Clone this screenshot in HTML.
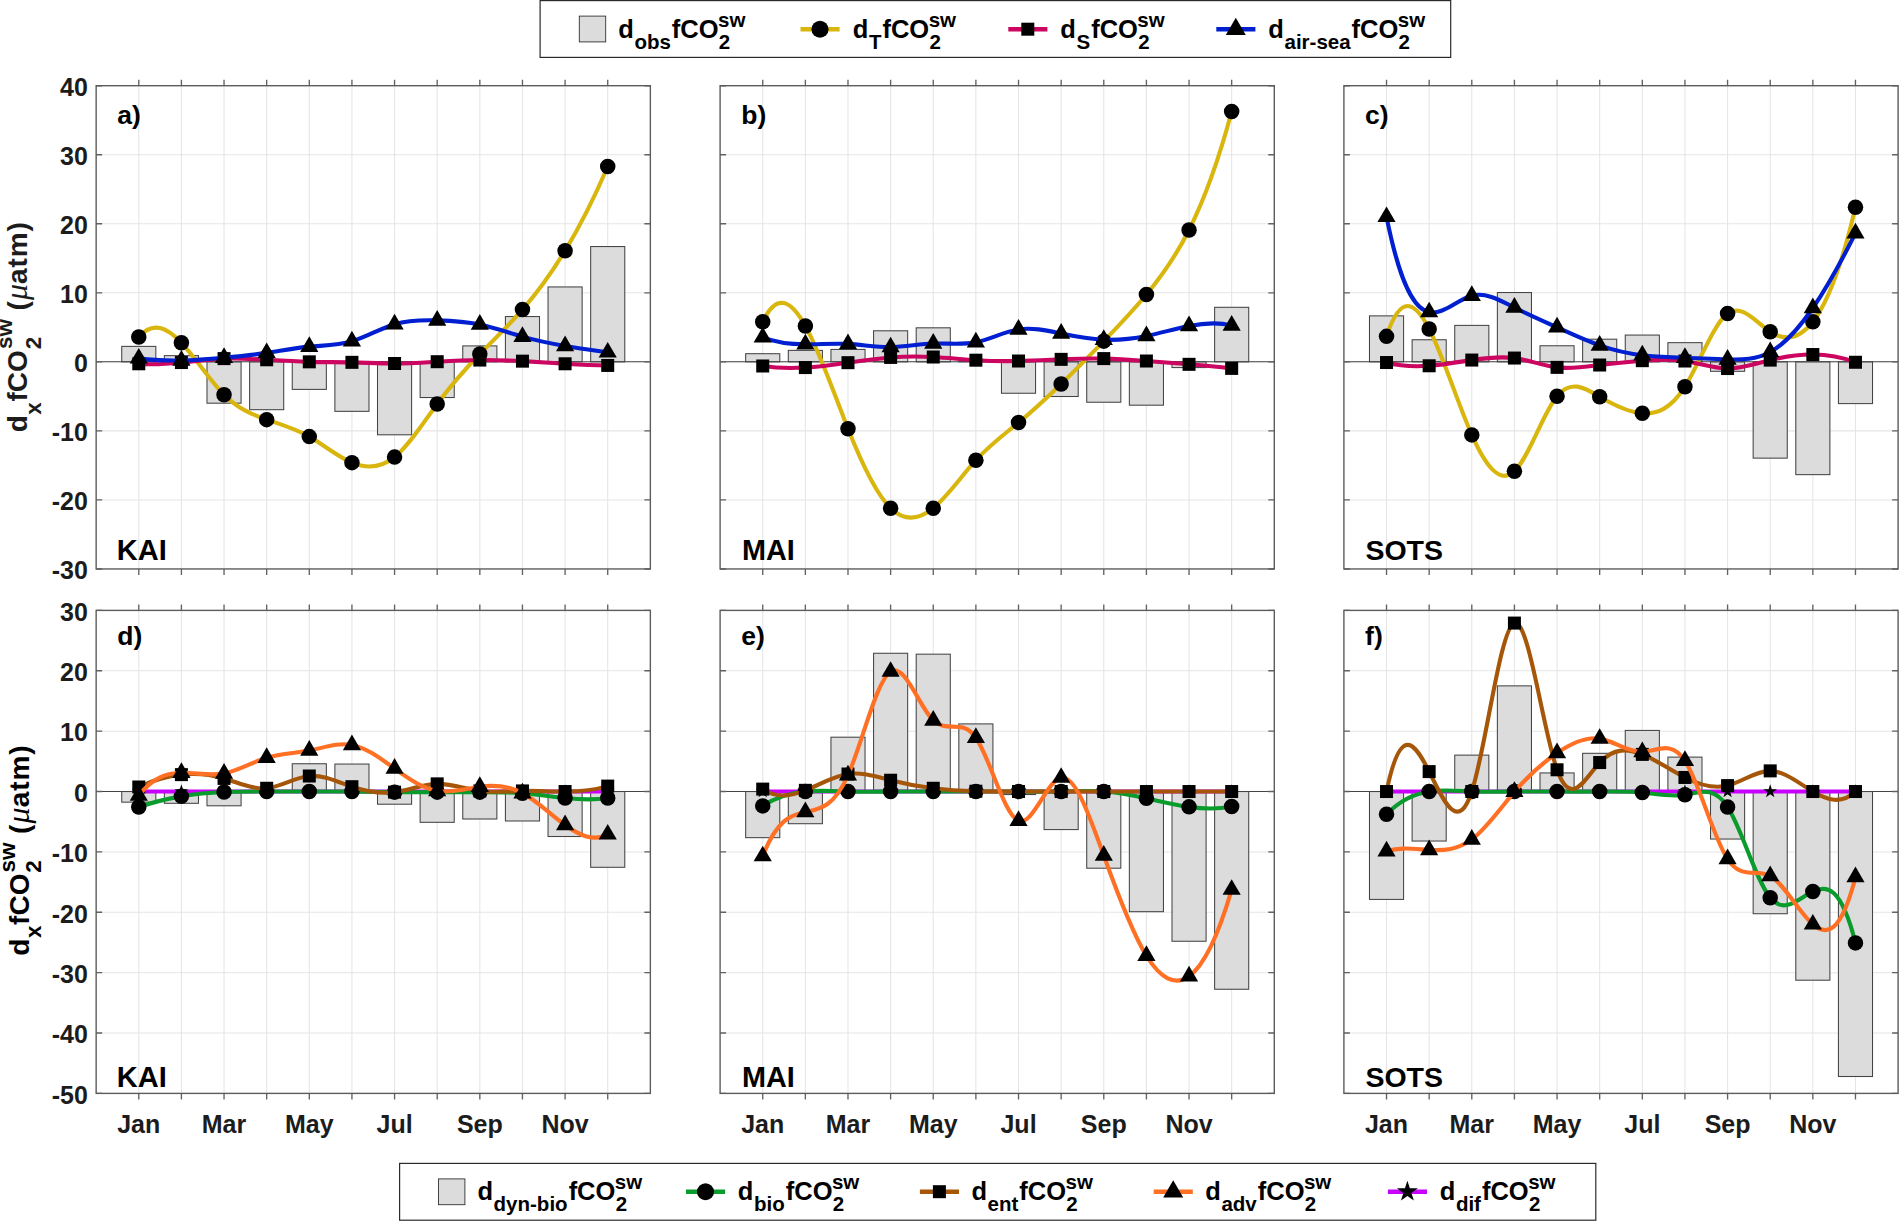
<!DOCTYPE html>
<html lang="en"><head><meta charset="utf-8"><title>Seasonal fCO2 drivers at KAI, MAI and SOTS</title>
<style>html,body{margin:0;padding:0;background:#fff}svg{display:block}</style></head><body>
<svg width="1899" height="1221" viewBox="0 0 1899 1221" font-family='"Liberation Sans", sans-serif' font-weight="bold">
<rect width="1899" height="1221" fill="#fff"/>
<g>
<path d="M138.78 85.7V568.95M181.41 85.7V568.95M224.04 85.7V568.95M266.67 85.7V568.95M309.3 85.7V568.95M351.93 85.7V568.95M394.57 85.7V568.95M437.2 85.7V568.95M479.83 85.7V568.95M522.46 85.7V568.95M565.09 85.7V568.95M607.72 85.7V568.95M96.15 499.91H650.35M96.15 430.88H650.35M96.15 361.84H650.35M96.15 292.81H650.35M96.15 223.77H650.35M96.15 154.74H650.35" stroke="#e5e5e5" stroke-width="1.05" fill="none"/>
<g fill="#dcdcdc" stroke="#444" stroke-width="1.05"><rect x="121.73" y="346.38" width="34.1" height="15.46"/><rect x="164.36" y="355.63" width="34.1" height="6.21"/><rect x="206.99" y="361.84" width="34.1" height="41.35"/><rect x="249.62" y="361.84" width="34.1" height="47.84"/><rect x="292.25" y="361.84" width="34.1" height="27.55"/><rect x="334.88" y="361.84" width="34.1" height="49.5"/><rect x="377.51" y="361.84" width="34.1" height="72.97"/><rect x="420.14" y="361.84" width="34.1" height="35.69"/><rect x="462.77" y="345.9" width="34.1" height="15.95"/><rect x="505.41" y="316.56" width="34.1" height="45.29"/><rect x="548.04" y="286.94" width="34.1" height="74.9"/><rect x="590.67" y="246.55" width="34.1" height="115.29"/></g>
<path d="M96.15 361.84H650.35" stroke="#444" stroke-width="1.05" fill="none"/>
<path d="M138.78 336.99C152.99 320.48 167.2 327.79 181.41 342.79C195.62 357.79 209.83 380.47 224.04 394.7C238.25 408.94 252.46 414.72 266.67 419.63C280.88 424.53 295.09 428.57 309.3 436.61C323.51 444.65 337.72 456.68 351.93 462.64C366.14 468.59 380.36 468.46 394.57 457.11C408.78 445.77 422.99 423.21 437.2 403.95C451.41 384.7 465.62 368.74 479.83 354.04C494.04 339.34 508.25 325.89 522.46 309.58C536.67 293.27 550.88 274.09 565.09 250.7C579.3 227.3 593.51 199.67 607.72 166.47" stroke="#d9b60d" stroke-width="4.1" fill="none" stroke-linecap="butt" stroke-linejoin="round"/>
<g fill="#000"><circle cx="138.78" cy="336.99" r="7.75"/><circle cx="181.41" cy="342.79" r="7.75"/><circle cx="224.04" cy="394.7" r="7.75"/><circle cx="266.67" cy="419.63" r="7.75"/><circle cx="309.3" cy="436.61" r="7.75"/><circle cx="351.93" cy="462.64" r="7.75"/><circle cx="394.57" cy="457.11" r="7.75"/><circle cx="437.2" cy="403.95" r="7.75"/><circle cx="479.83" cy="354.04" r="7.75"/><circle cx="522.46" cy="309.58" r="7.75"/><circle cx="565.09" cy="250.7" r="7.75"/><circle cx="607.72" cy="166.47" r="7.75"/></g>
<path d="M138.78 363.78C152.99 365.03 167.2 364.01 181.41 362.53C195.62 361.06 209.83 359.14 224.04 358.6C238.25 358.06 252.46 358.91 266.67 359.77C280.88 360.63 295.09 361.5 309.3 361.84C323.51 362.18 337.72 361.99 351.93 362.33C366.14 362.66 380.36 363.53 394.57 363.5C408.78 363.47 422.99 362.53 437.2 361.7C451.41 360.88 465.62 360.17 479.83 360.05C494.04 359.93 508.25 360.41 522.46 361.15C536.67 361.9 550.88 362.92 565.09 363.78C579.3 364.63 593.51 365.33 607.72 365.43" stroke="#cc0560" stroke-width="4.1" fill="none" stroke-linecap="butt" stroke-linejoin="round"/>
<g fill="#000"><rect x="132.28" y="357.28" width="13" height="13"/><rect x="174.91" y="356.03" width="13" height="13"/><rect x="217.54" y="352.1" width="13" height="13"/><rect x="260.17" y="353.27" width="13" height="13"/><rect x="302.8" y="355.34" width="13" height="13"/><rect x="345.43" y="355.83" width="13" height="13"/><rect x="388.07" y="357" width="13" height="13"/><rect x="430.7" y="355.2" width="13" height="13"/><rect x="473.33" y="353.55" width="13" height="13"/><rect x="515.96" y="354.65" width="13" height="13"/><rect x="558.59" y="357.28" width="13" height="13"/><rect x="601.22" y="358.93" width="13" height="13"/></g>
<path d="M138.78 358.39C152.99 360.33 167.2 360.8 181.41 360.46C195.62 360.13 209.83 358.99 224.04 357.7C238.25 356.41 252.46 354.98 266.67 352.87C280.88 350.75 295.09 347.96 309.3 346.65C323.51 345.35 337.72 345.55 351.93 341.34C366.14 337.13 380.36 328.5 394.57 324.22C408.78 319.94 422.99 320 437.2 320.42C451.41 320.84 465.62 321.62 479.83 324.56C494.04 327.51 508.25 332.64 522.46 336.64C536.67 340.65 550.88 343.55 565.09 345.96C579.3 348.38 593.51 350.31 607.72 352.38" stroke="#001fd0" stroke-width="4.1" fill="none" stroke-linecap="butt" stroke-linejoin="round"/>
<g fill="#000"><path d="M138.78 347.92L147.88 363.62L129.68 363.62Z"/><path d="M181.41 350L190.51 365.7L172.31 365.7Z"/><path d="M224.04 347.23L233.14 362.93L214.94 362.93Z"/><path d="M266.67 342.4L275.77 358.1L257.57 358.1Z"/><path d="M309.3 336.19L318.4 351.89L300.2 351.89Z"/><path d="M351.93 330.87L361.03 346.57L342.83 346.57Z"/><path d="M394.57 313.75L403.67 329.45L385.47 329.45Z"/><path d="M437.2 309.95L446.3 325.65L428.1 325.65Z"/><path d="M479.83 314.1L488.93 329.8L470.73 329.8Z"/><path d="M522.46 326.18L531.56 341.88L513.36 341.88Z"/><path d="M565.09 335.5L574.19 351.2L555.99 351.2Z"/><path d="M607.72 341.92L616.82 357.62L598.62 357.62Z"/></g>
<path d="M138.78 85.7v-6M138.78 568.95v6M181.41 85.7v-6M181.41 568.95v6M224.04 85.7v-6M224.04 568.95v6M266.67 85.7v-6M266.67 568.95v6M309.3 85.7v-6M309.3 568.95v6M351.93 85.7v-6M351.93 568.95v6M394.57 85.7v-6M394.57 568.95v6M437.2 85.7v-6M437.2 568.95v6M479.83 85.7v-6M479.83 568.95v6M522.46 85.7v-6M522.46 568.95v6M565.09 85.7v-6M565.09 568.95v6M607.72 85.7v-6M607.72 568.95v6M96.15 568.95h6M650.35 568.95h-6M96.15 499.91h6M650.35 499.91h-6M96.15 430.88h6M650.35 430.88h-6M96.15 361.84h6M650.35 361.84h-6M96.15 292.81h6M650.35 292.81h-6M96.15 223.77h6M650.35 223.77h-6M96.15 154.74h6M650.35 154.74h-6M96.15 85.7h6M650.35 85.7h-6" stroke="#626262" stroke-width="1.35" fill="none"/>
<rect x="96.15" y="85.7" width="554.2" height="483.25" fill="none" stroke="#5c5c5c" stroke-width="1.4"/>
<g font-size="25" text-anchor="end" fill="#1c1c1c"><text x="87.8" y="579.25">-30</text><text x="87.8" y="510.21">-20</text><text x="87.8" y="441.18">-10</text><text x="87.8" y="372.14">0</text><text x="87.8" y="303.11">10</text><text x="87.8" y="234.07">20</text><text x="87.8" y="165.04">30</text><text x="87.8" y="96">40</text></g>
<text x="117.35" y="124.3" font-size="26.5" fill="#000">a)</text>
<text x="116.75" y="559.6" font-size="29" fill="#000">KAI</text>
</g>
<g>
<path d="M762.73 85.7V568.95M805.36 85.7V568.95M847.99 85.7V568.95M890.62 85.7V568.95M933.25 85.7V568.95M975.88 85.7V568.95M1018.52 85.7V568.95M1061.15 85.7V568.95M1103.78 85.7V568.95M1146.41 85.7V568.95M1189.04 85.7V568.95M1231.67 85.7V568.95M720.1 499.91H1274.3M720.1 430.88H1274.3M720.1 361.84H1274.3M720.1 292.81H1274.3M720.1 223.77H1274.3M720.1 154.74H1274.3" stroke="#e5e5e5" stroke-width="1.05" fill="none"/>
<g fill="#dcdcdc" stroke="#444" stroke-width="1.05"><rect x="745.68" y="353.7" width="34.1" height="8.15"/><rect x="788.31" y="350.38" width="34.1" height="11.46"/><rect x="830.94" y="349.42" width="34.1" height="12.43"/><rect x="873.57" y="330.78" width="34.1" height="31.07"/><rect x="916.2" y="327.81" width="34.1" height="34.03"/><rect x="958.83" y="361.5" width="34.1" height="0.35"/><rect x="1001.46" y="361.84" width="34.1" height="31.41"/><rect x="1044.09" y="361.84" width="34.1" height="34.66"/><rect x="1086.72" y="361.84" width="34.1" height="40.39"/><rect x="1129.36" y="361.84" width="34.1" height="43.35"/><rect x="1171.99" y="361.84" width="34.1" height="5.73"/><rect x="1214.62" y="307.3" width="34.1" height="54.54"/></g>
<path d="M720.1 361.84H1274.3" stroke="#444" stroke-width="1.05" fill="none"/>
<path d="M762.73 321.8C776.94 291.78 791.15 300.63 805.36 325.94C819.57 351.25 833.78 393.02 847.99 428.81C862.2 464.6 876.41 494.41 890.62 508.2C904.83 521.99 919.04 519.75 933.25 508.2C947.46 496.65 961.67 475.8 975.88 460.22C990.09 444.64 1004.31 434.33 1018.52 422.59C1032.73 410.86 1046.94 397.7 1061.15 383.93C1075.36 370.17 1089.57 355.79 1103.78 341.13C1117.99 326.47 1132.2 311.54 1146.41 294.46C1160.62 277.39 1174.83 258.18 1189.04 229.98C1203.25 201.79 1217.46 164.61 1231.67 111.59" stroke="#d9b60d" stroke-width="4.1" fill="none" stroke-linecap="butt" stroke-linejoin="round"/>
<g fill="#000"><circle cx="762.73" cy="321.8" r="7.75"/><circle cx="805.36" cy="325.94" r="7.75"/><circle cx="847.99" cy="428.81" r="7.75"/><circle cx="890.62" cy="508.2" r="7.75"/><circle cx="933.25" cy="508.2" r="7.75"/><circle cx="975.88" cy="460.22" r="7.75"/><circle cx="1018.52" cy="422.59" r="7.75"/><circle cx="1061.15" cy="383.93" r="7.75"/><circle cx="1103.78" cy="341.13" r="7.75"/><circle cx="1146.41" cy="294.46" r="7.75"/><circle cx="1189.04" cy="229.98" r="7.75"/><circle cx="1231.67" cy="111.59" r="7.75"/></g>
<path d="M762.73 365.99C776.94 368.27 791.15 368.46 805.36 367.57C819.57 366.68 833.78 364.71 847.99 362.67C862.2 360.63 876.41 358.51 890.62 357.42C904.83 356.33 919.04 356.27 933.25 357.01C947.46 357.75 961.67 359.3 975.88 360.19C990.09 361.07 1004.31 361.29 1018.52 361.01C1032.73 360.74 1046.94 359.97 1061.15 359.36C1075.36 358.75 1089.57 358.3 1103.78 358.6C1117.99 358.9 1132.2 359.96 1146.41 361.01C1160.62 362.07 1174.83 363.14 1189.04 364.33C1203.25 365.52 1217.46 366.84 1231.67 368.4" stroke="#cc0560" stroke-width="4.1" fill="none" stroke-linecap="butt" stroke-linejoin="round"/>
<g fill="#000"><rect x="756.23" y="359.49" width="13" height="13"/><rect x="798.86" y="361.07" width="13" height="13"/><rect x="841.49" y="356.17" width="13" height="13"/><rect x="884.12" y="350.92" width="13" height="13"/><rect x="926.75" y="350.51" width="13" height="13"/><rect x="969.38" y="353.69" width="13" height="13"/><rect x="1012.02" y="354.51" width="13" height="13"/><rect x="1054.65" y="352.86" width="13" height="13"/><rect x="1097.28" y="352.1" width="13" height="13"/><rect x="1139.91" y="354.51" width="13" height="13"/><rect x="1182.54" y="357.83" width="13" height="13"/><rect x="1225.17" y="361.9" width="13" height="13"/></g>
<path d="M762.73 337.34C776.94 343 791.15 344.27 805.36 344.31C819.57 344.35 833.78 343.16 847.99 343.89C862.2 344.63 876.41 347.29 890.62 347.14C904.83 346.99 919.04 344.02 933.25 343.55C947.46 343.08 961.67 345.11 975.88 342.24C990.09 339.37 1004.31 331.6 1018.52 329.4C1032.73 327.19 1046.94 330.55 1061.15 333.54C1075.36 336.53 1089.57 339.15 1103.78 339.75C1117.99 340.35 1132.2 338.93 1146.41 336.02C1160.62 333.12 1174.83 328.74 1189.04 325.94C1203.25 323.15 1217.46 321.94 1231.67 325.39" stroke="#001fd0" stroke-width="4.1" fill="none" stroke-linecap="butt" stroke-linejoin="round"/>
<g fill="#000"><path d="M762.73 326.87L771.83 342.57L753.63 342.57Z"/><path d="M805.36 333.84L814.46 349.54L796.26 349.54Z"/><path d="M847.99 333.43L857.09 349.13L838.89 349.13Z"/><path d="M890.62 336.67L899.72 352.37L881.52 352.37Z"/><path d="M933.25 333.08L942.35 348.78L924.15 348.78Z"/><path d="M975.88 331.77L984.98 347.47L966.78 347.47Z"/><path d="M1018.52 318.93L1027.62 334.63L1009.42 334.63Z"/><path d="M1061.15 323.07L1070.25 338.77L1052.05 338.77Z"/><path d="M1103.78 329.28L1112.88 344.98L1094.68 344.98Z"/><path d="M1146.41 325.56L1155.51 341.26L1137.31 341.26Z"/><path d="M1189.04 315.48L1198.14 331.18L1179.94 331.18Z"/><path d="M1231.67 314.93L1240.77 330.63L1222.57 330.63Z"/></g>
<path d="M762.73 85.7v-6M762.73 568.95v6M805.36 85.7v-6M805.36 568.95v6M847.99 85.7v-6M847.99 568.95v6M890.62 85.7v-6M890.62 568.95v6M933.25 85.7v-6M933.25 568.95v6M975.88 85.7v-6M975.88 568.95v6M1018.52 85.7v-6M1018.52 568.95v6M1061.15 85.7v-6M1061.15 568.95v6M1103.78 85.7v-6M1103.78 568.95v6M1146.41 85.7v-6M1146.41 568.95v6M1189.04 85.7v-6M1189.04 568.95v6M1231.67 85.7v-6M1231.67 568.95v6M720.1 568.95h6M1274.3 568.95h-6M720.1 499.91h6M1274.3 499.91h-6M720.1 430.88h6M1274.3 430.88h-6M720.1 361.84h6M1274.3 361.84h-6M720.1 292.81h6M1274.3 292.81h-6M720.1 223.77h6M1274.3 223.77h-6M720.1 154.74h6M1274.3 154.74h-6M720.1 85.7h6M1274.3 85.7h-6" stroke="#626262" stroke-width="1.35" fill="none"/>
<rect x="720.1" y="85.7" width="554.2" height="483.25" fill="none" stroke="#5c5c5c" stroke-width="1.4"/>
<text x="741.3" y="124.3" font-size="26.5" fill="#000">b)</text>
<text x="741.9" y="559.6" font-size="28.8" fill="#000">MAI</text>
</g>
<g>
<path d="M1386.53 85.7V568.95M1429.16 85.7V568.95M1471.79 85.7V568.95M1514.42 85.7V568.95M1557.05 85.7V568.95M1599.68 85.7V568.95M1642.32 85.7V568.95M1684.95 85.7V568.95M1727.58 85.7V568.95M1770.21 85.7V568.95M1812.84 85.7V568.95M1855.47 85.7V568.95M1343.9 499.91H1898.1M1343.9 430.88H1898.1M1343.9 361.84H1898.1M1343.9 292.81H1898.1M1343.9 223.77H1898.1M1343.9 154.74H1898.1" stroke="#e5e5e5" stroke-width="1.05" fill="none"/>
<g fill="#dcdcdc" stroke="#444" stroke-width="1.05"><rect x="1369.48" y="315.87" width="34.1" height="45.98"/><rect x="1412.11" y="339.75" width="34.1" height="22.09"/><rect x="1454.74" y="325.39" width="34.1" height="36.45"/><rect x="1497.37" y="292.53" width="34.1" height="69.31"/><rect x="1540" y="345.76" width="34.1" height="16.09"/><rect x="1582.63" y="339.2" width="34.1" height="22.64"/><rect x="1625.26" y="335.06" width="34.1" height="26.79"/><rect x="1667.89" y="342.65" width="34.1" height="19.19"/><rect x="1710.52" y="361.84" width="34.1" height="9.46"/><rect x="1753.16" y="361.84" width="34.1" height="96.3"/><rect x="1795.79" y="361.84" width="34.1" height="112.8"/><rect x="1838.42" y="361.84" width="34.1" height="41.77"/></g>
<path d="M1343.9 361.84H1898.1" stroke="#444" stroke-width="1.05" fill="none"/>
<path d="M1386.53 336.37C1400.74 292.9 1414.95 301.5 1429.16 328.98C1443.37 356.46 1457.58 402.83 1471.79 434.88C1486 466.94 1500.21 484.68 1514.42 471.33C1528.63 457.99 1542.84 413.55 1557.05 396.15C1571.26 378.76 1585.47 388.41 1599.68 396.77C1613.89 405.14 1628.11 412.24 1642.32 413.27C1656.53 414.31 1670.74 409.29 1684.95 386.7C1699.16 364.1 1713.37 323.92 1727.58 313.52C1741.79 303.12 1756 322.49 1770.21 331.74C1784.42 340.99 1798.63 340.12 1812.84 321.8C1827.05 303.48 1841.26 267.72 1855.47 207.2" stroke="#d9b60d" stroke-width="4.1" fill="none" stroke-linecap="butt" stroke-linejoin="round"/>
<g fill="#000"><circle cx="1386.53" cy="336.37" r="7.75"/><circle cx="1429.16" cy="328.98" r="7.75"/><circle cx="1471.79" cy="434.88" r="7.75"/><circle cx="1514.42" cy="471.33" r="7.75"/><circle cx="1557.05" cy="396.15" r="7.75"/><circle cx="1599.68" cy="396.77" r="7.75"/><circle cx="1642.32" cy="413.27" r="7.75"/><circle cx="1684.95" cy="386.7" r="7.75"/><circle cx="1727.58" cy="313.52" r="7.75"/><circle cx="1770.21" cy="331.74" r="7.75"/><circle cx="1812.84" cy="321.8" r="7.75"/><circle cx="1855.47" cy="207.2" r="7.75"/></g>
<path d="M1386.53 362.53C1400.74 366.36 1414.95 366.82 1429.16 365.78C1443.37 364.74 1457.58 362.21 1471.79 360.05C1486 357.89 1500.21 356.11 1514.42 358.05C1528.63 359.99 1542.84 365.65 1557.05 367.37C1571.26 369.08 1585.47 366.85 1599.68 365.02C1613.89 363.19 1628.11 361.77 1642.32 360.67C1656.53 359.57 1670.74 358.8 1684.95 361.01C1699.16 363.23 1713.37 368.43 1727.58 368.54C1741.79 368.65 1756 363.67 1770.21 360.12C1784.42 356.56 1798.63 354.43 1812.84 354.53C1827.05 354.62 1841.26 356.93 1855.47 362.26" stroke="#cc0560" stroke-width="4.1" fill="none" stroke-linecap="butt" stroke-linejoin="round"/>
<g fill="#000"><rect x="1380.03" y="356.03" width="13" height="13"/><rect x="1422.66" y="359.28" width="13" height="13"/><rect x="1465.29" y="353.55" width="13" height="13"/><rect x="1507.92" y="351.55" width="13" height="13"/><rect x="1550.55" y="360.87" width="13" height="13"/><rect x="1593.18" y="358.52" width="13" height="13"/><rect x="1635.82" y="354.17" width="13" height="13"/><rect x="1678.45" y="354.51" width="13" height="13"/><rect x="1721.08" y="362.04" width="13" height="13"/><rect x="1763.71" y="353.62" width="13" height="13"/><rect x="1806.34" y="348.03" width="13" height="13"/><rect x="1848.97" y="355.76" width="13" height="13"/></g>
<path d="M1386.53 216.87C1400.74 287.64 1414.95 309.2 1429.16 312.14C1443.37 315.08 1457.58 299.4 1471.79 295.71C1486 292.01 1500.21 300.29 1514.42 307.51C1528.63 314.73 1542.84 320.89 1557.05 327.33C1571.26 333.76 1585.47 340.46 1599.68 345.41C1613.89 350.37 1628.11 353.58 1642.32 355.28C1656.53 356.99 1670.74 357.19 1684.95 357.7C1699.16 358.21 1713.37 359.02 1727.58 359.43C1741.79 359.83 1756 359.82 1770.21 352.04C1784.42 344.25 1798.63 328.69 1812.84 308C1827.05 287.3 1841.26 261.47 1855.47 233.16" stroke="#001fd0" stroke-width="4.1" fill="none" stroke-linecap="butt" stroke-linejoin="round"/>
<g fill="#000"><path d="M1386.53 206.4L1395.63 222.1L1377.43 222.1Z"/><path d="M1429.16 301.67L1438.26 317.37L1420.06 317.37Z"/><path d="M1471.79 285.24L1480.89 300.94L1462.69 300.94Z"/><path d="M1514.42 297.05L1523.52 312.75L1505.32 312.75Z"/><path d="M1557.05 316.86L1566.15 332.56L1547.95 332.56Z"/><path d="M1599.68 334.95L1608.78 350.65L1590.58 350.65Z"/><path d="M1642.32 344.82L1651.42 360.52L1633.22 360.52Z"/><path d="M1684.95 347.23L1694.05 362.93L1675.85 362.93Z"/><path d="M1727.58 348.96L1736.68 364.66L1718.48 364.66Z"/><path d="M1770.21 341.57L1779.31 357.27L1761.11 357.27Z"/><path d="M1812.84 297.53L1821.94 313.23L1803.74 313.23Z"/><path d="M1855.47 222.69L1864.57 238.39L1846.37 238.39Z"/></g>
<path d="M1386.53 85.7v-6M1386.53 568.95v6M1429.16 85.7v-6M1429.16 568.95v6M1471.79 85.7v-6M1471.79 568.95v6M1514.42 85.7v-6M1514.42 568.95v6M1557.05 85.7v-6M1557.05 568.95v6M1599.68 85.7v-6M1599.68 568.95v6M1642.32 85.7v-6M1642.32 568.95v6M1684.95 85.7v-6M1684.95 568.95v6M1727.58 85.7v-6M1727.58 568.95v6M1770.21 85.7v-6M1770.21 568.95v6M1812.84 85.7v-6M1812.84 568.95v6M1855.47 85.7v-6M1855.47 568.95v6M1343.9 568.95h6M1898.1 568.95h-6M1343.9 499.91h6M1898.1 499.91h-6M1343.9 430.88h6M1898.1 430.88h-6M1343.9 361.84h6M1898.1 361.84h-6M1343.9 292.81h6M1898.1 292.81h-6M1343.9 223.77h6M1898.1 223.77h-6M1343.9 154.74h6M1898.1 154.74h-6M1343.9 85.7h6M1898.1 85.7h-6" stroke="#626262" stroke-width="1.35" fill="none"/>
<rect x="1343.9" y="85.7" width="554.2" height="483.25" fill="none" stroke="#5c5c5c" stroke-width="1.4"/>
<text x="1365.1" y="124.3" font-size="26.5" fill="#000">c)</text>
<text x="1365.4" y="559.6" font-size="28.5" fill="#000">SOTS</text>
</g>
<g>
<path d="M138.78 610.4V1093.4M181.41 610.4V1093.4M224.04 610.4V1093.4M266.67 610.4V1093.4M309.3 610.4V1093.4M351.93 610.4V1093.4M394.57 610.4V1093.4M437.2 610.4V1093.4M479.83 610.4V1093.4M522.46 610.4V1093.4M565.09 610.4V1093.4M607.72 610.4V1093.4M96.15 1033.03H650.35M96.15 972.65H650.35M96.15 912.28H650.35M96.15 851.9H650.35M96.15 791.53H650.35M96.15 731.15H650.35M96.15 670.77H650.35" stroke="#e5e5e5" stroke-width="1.05" fill="none"/>
<g fill="#dcdcdc" stroke="#444" stroke-width="1.05"><rect x="121.73" y="791.53" width="34.1" height="10.63"/><rect x="164.36" y="791.53" width="34.1" height="11.77"/><rect x="206.99" y="791.53" width="34.1" height="14.25"/><rect x="292.25" y="763.75" width="34.1" height="27.77"/><rect x="334.88" y="764.05" width="34.1" height="27.47"/><rect x="377.51" y="791.53" width="34.1" height="12.68"/><rect x="420.14" y="791.53" width="34.1" height="30.79"/><rect x="462.77" y="791.53" width="34.1" height="27.47"/><rect x="505.41" y="791.53" width="34.1" height="29.46"/><rect x="548.04" y="791.53" width="34.1" height="44.98"/><rect x="590.67" y="791.53" width="34.1" height="75.77"/></g>
<path d="M96.15 791.53H650.35" stroke="#444" stroke-width="1.05" fill="none"/>
<path d="M138.78 791.53C152.99 791.53 167.2 791.53 181.41 791.53C195.62 791.53 209.83 791.53 224.04 791.53C238.25 791.53 252.46 791.53 266.67 791.53C280.88 791.53 295.09 791.53 309.3 791.53C323.51 791.53 337.72 791.53 351.93 791.53C366.14 791.53 380.36 791.53 394.57 791.53C408.78 791.53 422.99 791.53 437.2 791.53C451.41 791.53 465.62 791.53 479.83 791.53C494.04 791.53 508.25 791.53 522.46 791.53C536.67 791.53 550.88 791.53 565.09 791.53C579.3 791.53 593.51 791.53 607.72 791.53" stroke="#c800ff" stroke-width="4.1" fill="none" stroke-linecap="butt" stroke-linejoin="round"/>
<g fill="#000"><path d="M138.78 784.33L140.4 789.3L145.63 789.3L141.4 792.37L143.01 797.35L138.78 794.28L134.55 797.35L136.16 792.37L131.93 789.3L137.16 789.3Z"/><path d="M181.41 784.33L183.03 789.3L188.26 789.3L184.03 792.37L185.64 797.35L181.41 794.28L177.18 797.35L178.8 792.37L174.56 789.3L179.79 789.3Z"/><path d="M224.04 784.33L225.66 789.3L230.89 789.3L226.66 792.37L228.27 797.35L224.04 794.28L219.81 797.35L221.43 792.37L217.19 789.3L222.43 789.3Z"/><path d="M266.67 784.33L268.29 789.3L273.52 789.3L269.29 792.37L270.91 797.35L266.67 794.28L262.44 797.35L264.06 792.37L259.83 789.3L265.06 789.3Z"/><path d="M309.3 784.33L310.92 789.3L316.15 789.3L311.92 792.37L313.54 797.35L309.3 794.28L305.07 797.35L306.69 792.37L302.46 789.3L307.69 789.3Z"/><path d="M351.93 784.33L353.55 789.3L358.78 789.3L354.55 792.37L356.17 797.35L351.93 794.28L347.7 797.35L349.32 792.37L345.09 789.3L350.32 789.3Z"/><path d="M394.57 784.33L396.18 789.3L401.41 789.3L397.18 792.37L398.8 797.35L394.57 794.28L390.33 797.35L391.95 792.37L387.72 789.3L392.95 789.3Z"/><path d="M437.2 784.33L438.81 789.3L444.04 789.3L439.81 792.37L441.43 797.35L437.2 794.28L432.96 797.35L434.58 792.37L430.35 789.3L435.58 789.3Z"/><path d="M479.83 784.33L481.44 789.3L486.67 789.3L482.44 792.37L484.06 797.35L479.83 794.28L475.59 797.35L477.21 792.37L472.98 789.3L478.21 789.3Z"/><path d="M522.46 784.33L524.07 789.3L529.31 789.3L525.07 792.37L526.69 797.35L522.46 794.28L518.23 797.35L519.84 792.37L515.61 789.3L520.84 789.3Z"/><path d="M565.09 784.33L566.71 789.3L571.94 789.3L567.7 792.37L569.32 797.35L565.09 794.28L560.86 797.35L562.47 792.37L558.24 789.3L563.47 789.3Z"/><path d="M607.72 784.33L609.34 789.3L614.57 789.3L610.34 792.37L611.95 797.35L607.72 794.28L603.49 797.35L605.1 792.37L600.87 789.3L606.1 789.3Z"/></g>
<path d="M138.78 807.04C152.99 802.19 167.2 798.75 181.41 796.36C195.62 793.96 209.83 792.63 224.04 792.01C238.25 791.39 252.46 791.48 266.67 791.53C280.88 791.57 295.09 791.57 309.3 791.53C323.51 791.48 337.72 791.39 351.93 791.53C366.14 791.66 380.36 792 394.57 792.13C408.78 792.25 422.99 792.16 437.2 792.13C451.41 792.1 465.62 792.14 479.83 792.13C494.04 792.11 508.25 792.04 522.46 793.16C536.67 794.27 550.88 796.56 565.09 798.05C579.3 799.53 593.51 800.19 607.72 798.05" stroke="#0a9b2d" stroke-width="4.1" fill="none" stroke-linecap="butt" stroke-linejoin="round"/>
<g fill="#000"><circle cx="138.78" cy="807.04" r="7.75"/><circle cx="181.41" cy="796.36" r="7.75"/><circle cx="224.04" cy="792.01" r="7.75"/><circle cx="266.67" cy="791.53" r="7.75"/><circle cx="309.3" cy="791.53" r="7.75"/><circle cx="351.93" cy="791.53" r="7.75"/><circle cx="394.57" cy="792.13" r="7.75"/><circle cx="437.2" cy="792.13" r="7.75"/><circle cx="479.83" cy="792.13" r="7.75"/><circle cx="522.46" cy="793.16" r="7.75"/><circle cx="565.09" cy="798.05" r="7.75"/><circle cx="607.72" cy="798.05" r="7.75"/></g>
<path d="M138.78 787C152.99 780.33 167.2 776.12 181.41 774.62C195.62 773.12 209.83 774.31 224.04 778.42C238.25 782.54 252.46 789.58 266.67 788.26C280.88 786.95 295.09 777.27 309.3 776.01C323.51 774.74 337.72 781.89 351.93 786.7C366.14 791.5 380.36 793.96 394.57 792.13C408.78 790.3 422.99 784.18 437.2 783.86C451.41 783.53 465.62 788.99 479.83 790.92C494.04 792.85 508.25 791.24 522.46 790.92C536.67 790.6 550.88 791.57 565.09 791.53C579.3 791.48 593.51 790.44 607.72 786.09" stroke="#a65608" stroke-width="4.1" fill="none" stroke-linecap="butt" stroke-linejoin="round"/>
<g fill="#000"><rect x="132.28" y="780.5" width="13" height="13"/><rect x="174.91" y="768.12" width="13" height="13"/><rect x="217.54" y="771.92" width="13" height="13"/><rect x="260.17" y="781.76" width="13" height="13"/><rect x="302.8" y="769.51" width="13" height="13"/><rect x="345.43" y="780.2" width="13" height="13"/><rect x="388.07" y="785.63" width="13" height="13"/><rect x="430.7" y="777.36" width="13" height="13"/><rect x="473.33" y="784.42" width="13" height="13"/><rect x="515.96" y="784.42" width="13" height="13"/><rect x="558.59" y="785.03" width="13" height="13"/><rect x="601.22" y="779.59" width="13" height="13"/></g>
<path d="M138.78 795.63C152.99 777.33 167.2 773.11 181.41 772.81C195.62 772.51 209.83 776.13 224.04 773.53C238.25 770.93 252.46 762.11 266.67 757.72C280.88 753.32 295.09 753.35 309.3 750.59C323.51 747.83 337.72 742.29 351.93 744.92C366.14 747.55 380.36 758.35 394.57 768.58C408.78 778.81 422.99 788.47 437.2 790.92C451.41 793.37 465.62 788.62 479.83 786.7C494.04 784.77 508.25 785.67 522.46 793.16C536.67 800.64 550.88 814.71 565.09 825.03C579.3 835.35 593.51 841.92 607.72 834.39" stroke="#ff7024" stroke-width="4.1" fill="none" stroke-linecap="butt" stroke-linejoin="round"/>
<g fill="#000"><path d="M138.78 785.16L147.88 800.86L129.68 800.86Z"/><path d="M181.41 762.34L190.51 778.04L172.31 778.04Z"/><path d="M224.04 763.07L233.14 778.77L214.94 778.77Z"/><path d="M266.67 747.25L275.77 762.95L257.57 762.95Z"/><path d="M309.3 740.12L318.4 755.82L300.2 755.82Z"/><path d="M351.93 734.45L361.03 750.15L342.83 750.15Z"/><path d="M394.57 758.12L403.67 773.82L385.47 773.82Z"/><path d="M437.2 780.45L446.3 796.15L428.1 796.15Z"/><path d="M479.83 776.23L488.93 791.93L470.73 791.93Z"/><path d="M522.46 782.69L531.56 798.39L513.36 798.39Z"/><path d="M565.09 814.57L574.19 830.27L555.99 830.27Z"/><path d="M607.72 823.92L616.82 839.62L598.62 839.62Z"/></g>
<path d="M138.78 610.4v-6M138.78 1093.4v6M181.41 610.4v-6M181.41 1093.4v6M224.04 610.4v-6M224.04 1093.4v6M266.67 610.4v-6M266.67 1093.4v6M309.3 610.4v-6M309.3 1093.4v6M351.93 610.4v-6M351.93 1093.4v6M394.57 610.4v-6M394.57 1093.4v6M437.2 610.4v-6M437.2 1093.4v6M479.83 610.4v-6M479.83 1093.4v6M522.46 610.4v-6M522.46 1093.4v6M565.09 610.4v-6M565.09 1093.4v6M607.72 610.4v-6M607.72 1093.4v6M96.15 1093.4h6M650.35 1093.4h-6M96.15 1033.03h6M650.35 1033.03h-6M96.15 972.65h6M650.35 972.65h-6M96.15 912.28h6M650.35 912.28h-6M96.15 851.9h6M650.35 851.9h-6M96.15 791.53h6M650.35 791.53h-6M96.15 731.15h6M650.35 731.15h-6M96.15 670.77h6M650.35 670.77h-6M96.15 610.4h6M650.35 610.4h-6" stroke="#626262" stroke-width="1.35" fill="none"/>
<rect x="96.15" y="610.4" width="554.2" height="483" fill="none" stroke="#5c5c5c" stroke-width="1.4"/>
<g font-size="25" text-anchor="end" fill="#1c1c1c"><text x="87.8" y="1103.7">-50</text><text x="87.8" y="1043.33">-40</text><text x="87.8" y="982.95">-30</text><text x="87.8" y="922.58">-20</text><text x="87.8" y="862.2">-10</text><text x="87.8" y="801.83">0</text><text x="87.8" y="741.45">10</text><text x="87.8" y="681.07">20</text><text x="87.8" y="620.7">30</text></g>
<g font-size="25" text-anchor="middle" fill="#1c1c1c"><text x="138.78" y="1133.2">Jan</text><text x="224.04" y="1133.2">Mar</text><text x="309.3" y="1133.2">May</text><text x="394.57" y="1133.2">Jul</text><text x="479.83" y="1133.2">Sep</text><text x="565.09" y="1133.2">Nov</text></g>
<text x="117.35" y="645.4" font-size="26.5" fill="#000">d)</text>
<text x="116.75" y="1086.7" font-size="29" fill="#000">KAI</text>
</g>
<g>
<path d="M762.73 610.4V1093.4M805.36 610.4V1093.4M847.99 610.4V1093.4M890.62 610.4V1093.4M933.25 610.4V1093.4M975.88 610.4V1093.4M1018.52 610.4V1093.4M1061.15 610.4V1093.4M1103.78 610.4V1093.4M1146.41 610.4V1093.4M1189.04 610.4V1093.4M1231.67 610.4V1093.4M720.1 1033.03H1274.3M720.1 972.65H1274.3M720.1 912.28H1274.3M720.1 851.9H1274.3M720.1 791.53H1274.3M720.1 731.15H1274.3M720.1 670.77H1274.3" stroke="#e5e5e5" stroke-width="1.05" fill="none"/>
<g fill="#dcdcdc" stroke="#444" stroke-width="1.05"><rect x="745.68" y="791.53" width="34.1" height="46.13"/><rect x="788.31" y="791.53" width="34.1" height="32.18"/><rect x="830.94" y="737.19" width="34.1" height="54.34"/><rect x="873.57" y="653.27" width="34.1" height="138.26"/><rect x="916.2" y="654.17" width="34.1" height="137.35"/><rect x="958.83" y="723.9" width="34.1" height="67.62"/><rect x="1001.46" y="791.53" width="34.1" height="3.02"/><rect x="1044.09" y="791.53" width="34.1" height="38.04"/><rect x="1086.72" y="791.53" width="34.1" height="76.68"/><rect x="1129.36" y="791.53" width="34.1" height="120.15"/><rect x="1171.99" y="791.53" width="34.1" height="149.73"/><rect x="1214.62" y="791.53" width="34.1" height="197.73"/></g>
<path d="M720.1 791.53H1274.3" stroke="#444" stroke-width="1.05" fill="none"/>
<path d="M762.73 791.53C776.94 791.53 791.15 791.53 805.36 791.53C819.57 791.53 833.78 791.53 847.99 791.53C862.2 791.53 876.41 791.53 890.62 791.53C904.83 791.53 919.04 791.53 933.25 791.53C947.46 791.53 961.67 791.53 975.88 791.53C990.09 791.53 1004.31 791.53 1018.52 791.53C1032.73 791.53 1046.94 791.53 1061.15 791.53C1075.36 791.53 1089.57 791.53 1103.78 791.53C1117.99 791.53 1132.2 791.53 1146.41 791.53C1160.62 791.53 1174.83 791.53 1189.04 791.53C1203.25 791.53 1217.46 791.53 1231.67 791.53" stroke="#c800ff" stroke-width="4.1" fill="none" stroke-linecap="butt" stroke-linejoin="round"/>
<g fill="#000"><path d="M762.73 784.33L764.35 789.3L769.58 789.3L765.35 792.37L766.96 797.35L762.73 794.28L758.5 797.35L760.11 792.37L755.88 789.3L761.11 789.3Z"/><path d="M805.36 784.33L806.98 789.3L812.21 789.3L807.98 792.37L809.59 797.35L805.36 794.28L801.13 797.35L802.75 792.37L798.51 789.3L803.74 789.3Z"/><path d="M847.99 784.33L849.61 789.3L854.84 789.3L850.61 792.37L852.22 797.35L847.99 794.28L843.76 797.35L845.38 792.37L841.14 789.3L846.38 789.3Z"/><path d="M890.62 784.33L892.24 789.3L897.47 789.3L893.24 792.37L894.86 797.35L890.62 794.28L886.39 797.35L888.01 792.37L883.78 789.3L889.01 789.3Z"/><path d="M933.25 784.33L934.87 789.3L940.1 789.3L935.87 792.37L937.49 797.35L933.25 794.28L929.02 797.35L930.64 792.37L926.41 789.3L931.64 789.3Z"/><path d="M975.88 784.33L977.5 789.3L982.73 789.3L978.5 792.37L980.12 797.35L975.88 794.28L971.65 797.35L973.27 792.37L969.04 789.3L974.27 789.3Z"/><path d="M1018.52 784.33L1020.13 789.3L1025.36 789.3L1021.13 792.37L1022.75 797.35L1018.52 794.28L1014.28 797.35L1015.9 792.37L1011.67 789.3L1016.9 789.3Z"/><path d="M1061.15 784.33L1062.76 789.3L1067.99 789.3L1063.76 792.37L1065.38 797.35L1061.15 794.28L1056.91 797.35L1058.53 792.37L1054.3 789.3L1059.53 789.3Z"/><path d="M1103.78 784.33L1105.39 789.3L1110.62 789.3L1106.39 792.37L1108.01 797.35L1103.78 794.28L1099.54 797.35L1101.16 792.37L1096.93 789.3L1102.16 789.3Z"/><path d="M1146.41 784.33L1148.02 789.3L1153.26 789.3L1149.02 792.37L1150.64 797.35L1146.41 794.28L1142.18 797.35L1143.79 792.37L1139.56 789.3L1144.79 789.3Z"/><path d="M1189.04 784.33L1190.66 789.3L1195.89 789.3L1191.65 792.37L1193.27 797.35L1189.04 794.28L1184.81 797.35L1186.42 792.37L1182.19 789.3L1187.42 789.3Z"/><path d="M1231.67 784.33L1233.29 789.3L1238.52 789.3L1234.29 792.37L1235.9 797.35L1231.67 794.28L1227.44 797.35L1229.05 792.37L1224.82 789.3L1230.05 789.3Z"/></g>
<path d="M762.73 805.89C776.94 796.69 791.15 792.91 805.36 791.53C819.57 790.14 833.78 791.15 847.99 791.53C862.2 791.9 876.41 791.63 890.62 791.53C904.83 791.42 919.04 791.49 933.25 791.53C947.46 791.56 961.67 791.55 975.88 791.53C990.09 791.5 1004.31 791.45 1018.52 791.53C1032.73 791.6 1046.94 791.79 1061.15 791.53C1075.36 791.26 1089.57 790.53 1103.78 791.53C1117.99 792.52 1132.2 795.25 1146.41 798.35C1160.62 801.44 1174.83 804.89 1189.04 806.86C1203.25 808.83 1217.46 809.3 1231.67 806.44" stroke="#0a9b2d" stroke-width="4.1" fill="none" stroke-linecap="butt" stroke-linejoin="round"/>
<g fill="#000"><circle cx="762.73" cy="805.89" r="7.75"/><circle cx="805.36" cy="791.53" r="7.75"/><circle cx="847.99" cy="791.53" r="7.75"/><circle cx="890.62" cy="791.53" r="7.75"/><circle cx="933.25" cy="791.53" r="7.75"/><circle cx="975.88" cy="791.53" r="7.75"/><circle cx="1018.52" cy="791.53" r="7.75"/><circle cx="1061.15" cy="791.53" r="7.75"/><circle cx="1103.78" cy="791.53" r="7.75"/><circle cx="1146.41" cy="798.35" r="7.75"/><circle cx="1189.04" cy="806.86" r="7.75"/><circle cx="1231.67" cy="806.44" r="7.75"/></g>
<path d="M762.73 789.11C776.94 798.78 791.15 796.01 805.36 790.32C819.57 784.63 833.78 776.02 847.99 774.02C862.2 772.01 876.41 776.61 890.62 780.23C904.83 783.86 919.04 786.52 933.25 788.26C947.46 790.01 961.67 790.84 975.88 791.22C990.09 791.61 1004.31 791.55 1018.52 791.53C1032.73 791.5 1046.94 791.52 1061.15 791.53C1075.36 791.53 1089.57 791.53 1103.78 791.53C1117.99 791.52 1132.2 791.52 1146.41 791.53C1160.62 791.53 1174.83 791.53 1189.04 791.53C1203.25 791.52 1217.46 791.52 1231.67 791.53" stroke="#a65608" stroke-width="4.1" fill="none" stroke-linecap="butt" stroke-linejoin="round"/>
<g fill="#000"><rect x="756.23" y="782.61" width="13" height="13"/><rect x="798.86" y="783.82" width="13" height="13"/><rect x="841.49" y="767.52" width="13" height="13"/><rect x="884.12" y="773.73" width="13" height="13"/><rect x="926.75" y="781.76" width="13" height="13"/><rect x="969.38" y="784.72" width="13" height="13"/><rect x="1012.02" y="785.03" width="13" height="13"/><rect x="1054.65" y="785.03" width="13" height="13"/><rect x="1097.28" y="785.03" width="13" height="13"/><rect x="1139.91" y="785.03" width="13" height="13"/><rect x="1182.54" y="785.03" width="13" height="13"/><rect x="1225.17" y="785.03" width="13" height="13"/></g>
<path d="M762.73 856.13C776.94 819.21 791.15 815.03 805.36 812.05C819.57 809.08 833.78 807.31 847.99 775.22C862.2 743.14 876.41 680.74 890.62 671.62C904.83 662.5 919.04 706.65 933.25 720.4C947.46 734.16 961.67 717.51 975.88 737.79C990.09 758.07 1004.31 815.27 1018.52 820.81C1032.73 826.34 1046.94 780.21 1061.15 777.64C1075.36 775.07 1089.57 816.07 1103.78 855.52C1117.99 894.98 1132.2 932.9 1146.41 955.75C1160.62 978.59 1174.83 986.36 1189.04 976.27C1203.25 966.18 1217.46 938.23 1231.67 889.63" stroke="#ff7024" stroke-width="4.1" fill="none" stroke-linecap="butt" stroke-linejoin="round"/>
<g fill="#000"><path d="M762.73 845.66L771.83 861.36L753.63 861.36Z"/><path d="M805.36 801.59L814.46 817.29L796.26 817.29Z"/><path d="M847.99 764.76L857.09 780.46L838.89 780.46Z"/><path d="M890.62 661.15L899.72 676.85L881.52 676.85Z"/><path d="M933.25 709.94L942.35 725.64L924.15 725.64Z"/><path d="M975.88 727.32L984.98 743.02L966.78 743.02Z"/><path d="M1018.52 810.34L1027.62 826.04L1009.42 826.04Z"/><path d="M1061.15 767.17L1070.25 782.87L1052.05 782.87Z"/><path d="M1103.78 845.06L1112.88 860.76L1094.68 860.76Z"/><path d="M1146.41 945.28L1155.51 960.98L1137.31 960.98Z"/><path d="M1189.04 965.81L1198.14 981.51L1179.94 981.51Z"/><path d="M1231.67 879.17L1240.77 894.87L1222.57 894.87Z"/></g>
<path d="M762.73 610.4v-6M762.73 1093.4v6M805.36 610.4v-6M805.36 1093.4v6M847.99 610.4v-6M847.99 1093.4v6M890.62 610.4v-6M890.62 1093.4v6M933.25 610.4v-6M933.25 1093.4v6M975.88 610.4v-6M975.88 1093.4v6M1018.52 610.4v-6M1018.52 1093.4v6M1061.15 610.4v-6M1061.15 1093.4v6M1103.78 610.4v-6M1103.78 1093.4v6M1146.41 610.4v-6M1146.41 1093.4v6M1189.04 610.4v-6M1189.04 1093.4v6M1231.67 610.4v-6M1231.67 1093.4v6M720.1 1093.4h6M1274.3 1093.4h-6M720.1 1033.03h6M1274.3 1033.03h-6M720.1 972.65h6M1274.3 972.65h-6M720.1 912.28h6M1274.3 912.28h-6M720.1 851.9h6M1274.3 851.9h-6M720.1 791.53h6M1274.3 791.53h-6M720.1 731.15h6M1274.3 731.15h-6M720.1 670.77h6M1274.3 670.77h-6M720.1 610.4h6M1274.3 610.4h-6" stroke="#626262" stroke-width="1.35" fill="none"/>
<rect x="720.1" y="610.4" width="554.2" height="483" fill="none" stroke="#5c5c5c" stroke-width="1.4"/>
<g font-size="25" text-anchor="middle" fill="#1c1c1c"><text x="762.73" y="1133.2">Jan</text><text x="847.99" y="1133.2">Mar</text><text x="933.25" y="1133.2">May</text><text x="1018.52" y="1133.2">Jul</text><text x="1103.78" y="1133.2">Sep</text><text x="1189.04" y="1133.2">Nov</text></g>
<text x="741.3" y="645.4" font-size="26.5" fill="#000">e)</text>
<text x="741.9" y="1086.7" font-size="28.8" fill="#000">MAI</text>
</g>
<g>
<path d="M1386.53 610.4V1093.4M1429.16 610.4V1093.4M1471.79 610.4V1093.4M1514.42 610.4V1093.4M1557.05 610.4V1093.4M1599.68 610.4V1093.4M1642.32 610.4V1093.4M1684.95 610.4V1093.4M1727.58 610.4V1093.4M1770.21 610.4V1093.4M1812.84 610.4V1093.4M1855.47 610.4V1093.4M1343.9 1033.03H1898.1M1343.9 972.65H1898.1M1343.9 912.28H1898.1M1343.9 851.9H1898.1M1343.9 791.53H1898.1M1343.9 731.15H1898.1M1343.9 670.77H1898.1" stroke="#e5e5e5" stroke-width="1.05" fill="none"/>
<g fill="#dcdcdc" stroke="#444" stroke-width="1.05"><rect x="1369.48" y="791.53" width="34.1" height="107.89"/><rect x="1412.11" y="791.53" width="34.1" height="49.51"/><rect x="1454.74" y="755.12" width="34.1" height="36.41"/><rect x="1497.37" y="685.87" width="34.1" height="105.66"/><rect x="1540" y="772.93" width="34.1" height="18.6"/><rect x="1582.63" y="753.31" width="34.1" height="38.22"/><rect x="1625.26" y="730.43" width="34.1" height="61.1"/><rect x="1667.89" y="757.11" width="34.1" height="34.41"/><rect x="1710.52" y="791.53" width="34.1" height="47.52"/><rect x="1753.16" y="791.53" width="34.1" height="122.2"/><rect x="1795.79" y="791.53" width="34.1" height="188.67"/><rect x="1838.42" y="791.53" width="34.1" height="284.97"/></g>
<path d="M1343.9 791.53H1898.1" stroke="#444" stroke-width="1.05" fill="none"/>
<path d="M1386.53 791.53C1400.74 791.53 1414.95 791.53 1429.16 791.53C1443.37 791.53 1457.58 791.53 1471.79 791.53C1486 791.53 1500.21 791.53 1514.42 791.53C1528.63 791.53 1542.84 791.53 1557.05 791.53C1571.26 791.53 1585.47 791.53 1599.68 791.53C1613.89 791.53 1628.11 791.53 1642.32 791.53C1656.53 791.53 1670.74 791.53 1684.95 791.53C1699.16 791.53 1713.37 791.53 1727.58 791.53C1741.79 791.53 1756 791.53 1770.21 791.53C1784.42 791.53 1798.63 791.53 1812.84 791.53C1827.05 791.53 1841.26 791.53 1855.47 791.53" stroke="#c800ff" stroke-width="4.1" fill="none" stroke-linecap="butt" stroke-linejoin="round"/>
<g fill="#000"><path d="M1386.53 784.33L1388.15 789.3L1393.38 789.3L1389.15 792.37L1390.76 797.35L1386.53 794.28L1382.3 797.35L1383.91 792.37L1379.68 789.3L1384.91 789.3Z"/><path d="M1429.16 784.33L1430.78 789.3L1436.01 789.3L1431.78 792.37L1433.39 797.35L1429.16 794.28L1424.93 797.35L1426.55 792.37L1422.31 789.3L1427.54 789.3Z"/><path d="M1471.79 784.33L1473.41 789.3L1478.64 789.3L1474.41 792.37L1476.02 797.35L1471.79 794.28L1467.56 797.35L1469.18 792.37L1464.94 789.3L1470.18 789.3Z"/><path d="M1514.42 784.33L1516.04 789.3L1521.27 789.3L1517.04 792.37L1518.66 797.35L1514.42 794.28L1510.19 797.35L1511.81 792.37L1507.58 789.3L1512.81 789.3Z"/><path d="M1557.05 784.33L1558.67 789.3L1563.9 789.3L1559.67 792.37L1561.29 797.35L1557.05 794.28L1552.82 797.35L1554.44 792.37L1550.21 789.3L1555.44 789.3Z"/><path d="M1599.68 784.33L1601.3 789.3L1606.53 789.3L1602.3 792.37L1603.92 797.35L1599.68 794.28L1595.45 797.35L1597.07 792.37L1592.84 789.3L1598.07 789.3Z"/><path d="M1642.32 784.33L1643.93 789.3L1649.16 789.3L1644.93 792.37L1646.55 797.35L1642.32 794.28L1638.08 797.35L1639.7 792.37L1635.47 789.3L1640.7 789.3Z"/><path d="M1684.95 784.33L1686.56 789.3L1691.79 789.3L1687.56 792.37L1689.18 797.35L1684.95 794.28L1680.71 797.35L1682.33 792.37L1678.1 789.3L1683.33 789.3Z"/><path d="M1727.58 784.33L1729.19 789.3L1734.42 789.3L1730.19 792.37L1731.81 797.35L1727.58 794.28L1723.34 797.35L1724.96 792.37L1720.73 789.3L1725.96 789.3Z"/><path d="M1770.21 784.33L1771.82 789.3L1777.06 789.3L1772.82 792.37L1774.44 797.35L1770.21 794.28L1765.98 797.35L1767.59 792.37L1763.36 789.3L1768.59 789.3Z"/><path d="M1812.84 784.33L1814.46 789.3L1819.69 789.3L1815.45 792.37L1817.07 797.35L1812.84 794.28L1808.61 797.35L1810.22 792.37L1805.99 789.3L1811.22 789.3Z"/><path d="M1855.47 784.33L1857.09 789.3L1862.32 789.3L1858.09 792.37L1859.7 797.35L1855.47 794.28L1851.24 797.35L1852.85 792.37L1848.62 789.3L1853.85 789.3Z"/></g>
<path d="M1386.53 814.29C1400.74 799.7 1414.95 793.72 1429.16 791.53C1443.37 789.33 1457.58 790.94 1471.79 791.53C1486 792.11 1500.21 791.69 1514.42 791.53C1528.63 791.36 1542.84 791.45 1557.05 791.53C1571.26 791.6 1585.47 791.65 1599.68 791.53C1613.89 791.4 1628.11 791.09 1642.32 792.49C1656.53 793.89 1670.74 797.01 1684.95 794.79C1699.16 792.56 1713.37 784.99 1727.58 806.92C1741.79 828.85 1756 880.26 1770.21 897.66C1784.42 915.07 1798.63 898.45 1812.84 891.45C1827.05 884.44 1841.26 887.05 1855.47 942.89" stroke="#0a9b2d" stroke-width="4.1" fill="none" stroke-linecap="butt" stroke-linejoin="round"/>
<g fill="#000"><circle cx="1386.53" cy="814.29" r="7.75"/><circle cx="1429.16" cy="791.53" r="7.75"/><circle cx="1471.79" cy="791.53" r="7.75"/><circle cx="1514.42" cy="791.53" r="7.75"/><circle cx="1557.05" cy="791.53" r="7.75"/><circle cx="1599.68" cy="791.53" r="7.75"/><circle cx="1642.32" cy="792.49" r="7.75"/><circle cx="1684.95" cy="794.79" r="7.75"/><circle cx="1727.58" cy="806.92" r="7.75"/><circle cx="1770.21" cy="897.66" r="7.75"/><circle cx="1812.84" cy="891.45" r="7.75"/><circle cx="1855.47" cy="942.89" r="7.75"/></g>
<path d="M1386.53 791.53C1400.74 721.95 1414.95 743.46 1429.16 771.6C1443.37 799.75 1457.58 834.53 1471.79 791.53C1486 748.52 1500.21 627.72 1514.42 623.08C1528.63 618.44 1542.84 729.95 1557.05 769.79C1571.26 809.63 1585.47 777.78 1599.68 762.55C1613.89 747.31 1628.11 748.67 1642.32 754.39C1656.53 760.12 1670.74 770.21 1684.95 777.46C1699.16 784.71 1713.37 789.13 1727.58 785.61C1741.79 782.09 1756 770.64 1770.21 770.88C1784.42 771.11 1798.63 783.04 1812.84 791.53C1827.05 800.01 1841.26 805.05 1855.47 791.53" stroke="#a65608" stroke-width="4.1" fill="none" stroke-linecap="butt" stroke-linejoin="round"/>
<g fill="#000"><rect x="1380.03" y="785.03" width="13" height="13"/><rect x="1422.66" y="765.1" width="13" height="13"/><rect x="1465.29" y="785.03" width="13" height="13"/><rect x="1507.92" y="616.58" width="13" height="13"/><rect x="1550.55" y="763.29" width="13" height="13"/><rect x="1593.18" y="756.05" width="13" height="13"/><rect x="1635.82" y="747.89" width="13" height="13"/><rect x="1678.45" y="770.96" width="13" height="13"/><rect x="1721.08" y="779.11" width="13" height="13"/><rect x="1763.71" y="764.38" width="13" height="13"/><rect x="1806.34" y="785.03" width="13" height="13"/><rect x="1848.97" y="785.03" width="13" height="13"/></g>
<path d="M1386.53 851.3C1400.74 846.74 1414.95 849.08 1429.16 849.91C1443.37 850.74 1457.58 850.06 1471.79 839.46C1486 828.87 1500.21 808.36 1514.42 791.83C1528.63 775.29 1542.84 762.74 1557.05 753.01C1571.26 743.27 1585.47 736.37 1599.68 738.64C1613.89 740.9 1628.11 752.34 1642.32 751.92C1656.53 751.5 1670.74 739.22 1684.95 760.73C1699.16 782.25 1713.37 837.55 1727.58 859.02C1741.79 880.5 1756 868.14 1770.21 876.05C1784.42 883.96 1798.63 912.12 1812.84 924.35C1827.05 936.58 1841.26 932.87 1855.47 877.02" stroke="#ff7024" stroke-width="4.1" fill="none" stroke-linecap="butt" stroke-linejoin="round"/>
<g fill="#000"><path d="M1386.53 840.83L1395.63 856.53L1377.43 856.53Z"/><path d="M1429.16 839.44L1438.26 855.14L1420.06 855.14Z"/><path d="M1471.79 829L1480.89 844.7L1462.69 844.7Z"/><path d="M1514.42 781.36L1523.52 797.06L1505.32 797.06Z"/><path d="M1557.05 742.54L1566.15 758.24L1547.95 758.24Z"/><path d="M1599.68 728.17L1608.78 743.87L1590.58 743.87Z"/><path d="M1642.32 741.45L1651.42 757.15L1633.22 757.15Z"/><path d="M1684.95 750.27L1694.05 765.97L1675.85 765.97Z"/><path d="M1727.58 848.56L1736.68 864.26L1718.48 864.26Z"/><path d="M1770.21 865.58L1779.31 881.28L1761.11 881.28Z"/><path d="M1812.84 913.88L1821.94 929.58L1803.74 929.58Z"/><path d="M1855.47 866.55L1864.57 882.25L1846.37 882.25Z"/></g>
<path d="M1386.53 610.4v-6M1386.53 1093.4v6M1429.16 610.4v-6M1429.16 1093.4v6M1471.79 610.4v-6M1471.79 1093.4v6M1514.42 610.4v-6M1514.42 1093.4v6M1557.05 610.4v-6M1557.05 1093.4v6M1599.68 610.4v-6M1599.68 1093.4v6M1642.32 610.4v-6M1642.32 1093.4v6M1684.95 610.4v-6M1684.95 1093.4v6M1727.58 610.4v-6M1727.58 1093.4v6M1770.21 610.4v-6M1770.21 1093.4v6M1812.84 610.4v-6M1812.84 1093.4v6M1855.47 610.4v-6M1855.47 1093.4v6M1343.9 1093.4h6M1898.1 1093.4h-6M1343.9 1033.03h6M1898.1 1033.03h-6M1343.9 972.65h6M1898.1 972.65h-6M1343.9 912.28h6M1898.1 912.28h-6M1343.9 851.9h6M1898.1 851.9h-6M1343.9 791.53h6M1898.1 791.53h-6M1343.9 731.15h6M1898.1 731.15h-6M1343.9 670.77h6M1898.1 670.77h-6M1343.9 610.4h6M1898.1 610.4h-6" stroke="#626262" stroke-width="1.35" fill="none"/>
<rect x="1343.9" y="610.4" width="554.2" height="483" fill="none" stroke="#5c5c5c" stroke-width="1.4"/>
<g font-size="25" text-anchor="middle" fill="#1c1c1c"><text x="1386.53" y="1133.2">Jan</text><text x="1471.79" y="1133.2">Mar</text><text x="1557.05" y="1133.2">May</text><text x="1642.32" y="1133.2">Jul</text><text x="1727.58" y="1133.2">Sep</text><text x="1812.84" y="1133.2">Nov</text></g>
<text x="1365.1" y="645.4" font-size="26.5" fill="#000">f)</text>
<text x="1365.4" y="1086.7" font-size="28.5" fill="#000">SOTS</text>
</g>
<g transform="translate(26.5 432.3) rotate(-90)" font-size="28" fill="#1c1c1c">
<text><tspan x="0" y="0">d</tspan><tspan x="17.6" y="14.3" font-size="22.5">x</tspan><tspan x="30.8" y="0">fCO</tspan><tspan x="83" y="14.3" font-size="22.5">2</tspan><tspan x="83.2" y="-14.5" font-size="22.5">sw</tspan><tspan x="113.92" y="0"> (</tspan><tspan x="132.2" y="0" font-weight="normal" font-style="italic" font-family="'Liberation Serif', serif" font-size="32">μ</tspan><tspan x="148.4" y="0" letter-spacing="0.9">atm)</tspan></text>
</g>
<g transform="translate(28.5 955.7) rotate(-90)" font-size="28" fill="#000">
<text><tspan x="0" y="0">d</tspan><tspan x="17.6" y="12.3" font-size="22.5">x</tspan><tspan x="30.8" y="0">fCO</tspan><tspan x="83" y="12.3" font-size="22.5">2</tspan><tspan x="83.2" y="-13.8" font-size="22.5">sw</tspan><tspan x="113.92" y="0"> (</tspan><tspan x="132.2" y="0" font-weight="normal" font-style="italic" font-family="'Liberation Serif', serif" font-size="32">μ</tspan><tspan x="148.4" y="0" letter-spacing="0.9">atm)</tspan></text>
</g>
<rect x="540.1" y="0.6" width="910.6" height="56.8" fill="#fff" stroke="#2b2b2b" stroke-width="1.2"/>
<rect x="579.3" y="16.1" width="26.4" height="25.8" fill="#dcdcdc" stroke="#303030" stroke-width="0.9"/>
<text font-size="25.5" fill="#000"><tspan x="618.2" y="37.9">d</tspan><tspan x="634.4" y="49.2" font-size="20.5">obs</tspan><tspan x="671.85" y="37.9">fCO</tspan><tspan x="718.85" y="49.2" font-size="20.5">2</tspan><tspan x="718.05" y="26.6" font-size="20.5">sw</tspan></text>
<path d="M800.5 29.3h39.1" stroke="#d9b60d" stroke-width="4.5" fill="none"/>
<g fill="#000"><circle cx="820" cy="29.2" r="8.53"/></g>
<text font-size="25.5" fill="#000"><tspan x="852.7" y="37.9">d</tspan><tspan x="868.9" y="49.2" font-size="20.5">T</tspan><tspan x="882.43" y="37.9">fCO</tspan><tspan x="929.43" y="49.2" font-size="20.5">2</tspan><tspan x="928.63" y="26.6" font-size="20.5">sw</tspan></text>
<path d="M1008.3 29.3h39.1" stroke="#cc0560" stroke-width="4.5" fill="none"/>
<g fill="#000"><rect x="1021.3" y="22.7" width="13" height="13"/></g>
<text font-size="25.5" fill="#000"><tspan x="1060.3" y="37.9">d</tspan><tspan x="1076.5" y="49.2" font-size="20.5">S</tspan><tspan x="1091.17" y="37.9">fCO</tspan><tspan x="1138.17" y="49.2" font-size="20.5">2</tspan><tspan x="1137.37" y="26.6" font-size="20.5">sw</tspan></text>
<path d="M1216.3 29.3h39.1" stroke="#001fd0" stroke-width="4.5" fill="none"/>
<g fill="#000"><path d="M1235.8 17.69L1245.81 34.96L1225.79 34.96Z"/></g>
<text font-size="25.5" fill="#000"><tspan x="1268.3" y="37.9">d</tspan><tspan x="1284.5" y="49.2" font-size="20.5">air-sea</tspan><tspan x="1351.59" y="37.9">fCO</tspan><tspan x="1398.59" y="49.2" font-size="20.5">2</tspan><tspan x="1397.79" y="26.6" font-size="20.5">sw</tspan></text>
<rect x="399.6" y="1163.4" width="1196.2" height="56.8" fill="#fff" stroke="#2b2b2b" stroke-width="1.2"/>
<rect x="438.5" y="1178.9" width="26.4" height="25.8" fill="#dcdcdc" stroke="#303030" stroke-width="0.9"/>
<text font-size="25.5" fill="#000"><tspan x="477.4" y="1200.1">d</tspan><tspan x="493.6" y="1211.4" font-size="20.5">dyn-bio</tspan><tspan x="568.63" y="1200.1">fCO</tspan><tspan x="615.63" y="1211.4" font-size="20.5">2</tspan><tspan x="614.83" y="1188.8" font-size="20.5">sw</tspan></text>
<path d="M686 1191.8h39.1" stroke="#0a9b2d" stroke-width="4.5" fill="none"/>
<g fill="#000"><circle cx="705.5" cy="1191.7" r="8.53"/></g>
<text font-size="25.5" fill="#000"><tspan x="737.8" y="1200.1">d</tspan><tspan x="754" y="1211.4" font-size="20.5">bio</tspan><tspan x="785.75" y="1200.1">fCO</tspan><tspan x="832.75" y="1211.4" font-size="20.5">2</tspan><tspan x="831.95" y="1188.8" font-size="20.5">sw</tspan></text>
<path d="M919.9 1191.8h39.1" stroke="#a65608" stroke-width="4.5" fill="none"/>
<g fill="#000"><rect x="932.9" y="1185.2" width="13" height="13"/></g>
<text font-size="25.5" fill="#000"><tspan x="971.4" y="1200.1">d</tspan><tspan x="987.6" y="1211.4" font-size="20.5">ent</tspan><tspan x="1019.35" y="1200.1">fCO</tspan><tspan x="1066.35" y="1211.4" font-size="20.5">2</tspan><tspan x="1065.55" y="1188.8" font-size="20.5">sw</tspan></text>
<path d="M1153.7 1191.8h39.1" stroke="#ff7024" stroke-width="4.5" fill="none"/>
<g fill="#000"><path d="M1173.2 1180.19L1183.21 1197.46L1163.19 1197.46Z"/></g>
<text font-size="25.5" fill="#000"><tspan x="1205.2" y="1200.1">d</tspan><tspan x="1221.4" y="1211.4" font-size="20.5">adv</tspan><tspan x="1257.72" y="1200.1">fCO</tspan><tspan x="1304.72" y="1211.4" font-size="20.5">2</tspan><tspan x="1303.92" y="1188.8" font-size="20.5">sw</tspan></text>
<path d="M1387.9 1191.8h39.1" stroke="#c800ff" stroke-width="4.5" fill="none"/>
<g fill="#000"><path d="M1407.4 1180.68L1409.87 1188.3L1417.88 1188.3L1411.4 1193L1413.88 1200.61L1407.4 1195.91L1400.92 1200.61L1403.4 1193L1396.92 1188.3L1404.93 1188.3Z"/></g>
<text font-size="25.5" fill="#000"><tspan x="1439.7" y="1200.1">d</tspan><tspan x="1455.9" y="1211.4" font-size="20.5">dif</tspan><tspan x="1481.95" y="1200.1">fCO</tspan><tspan x="1528.95" y="1211.4" font-size="20.5">2</tspan><tspan x="1528.15" y="1188.8" font-size="20.5">sw</tspan></text>
</svg></body></html>
